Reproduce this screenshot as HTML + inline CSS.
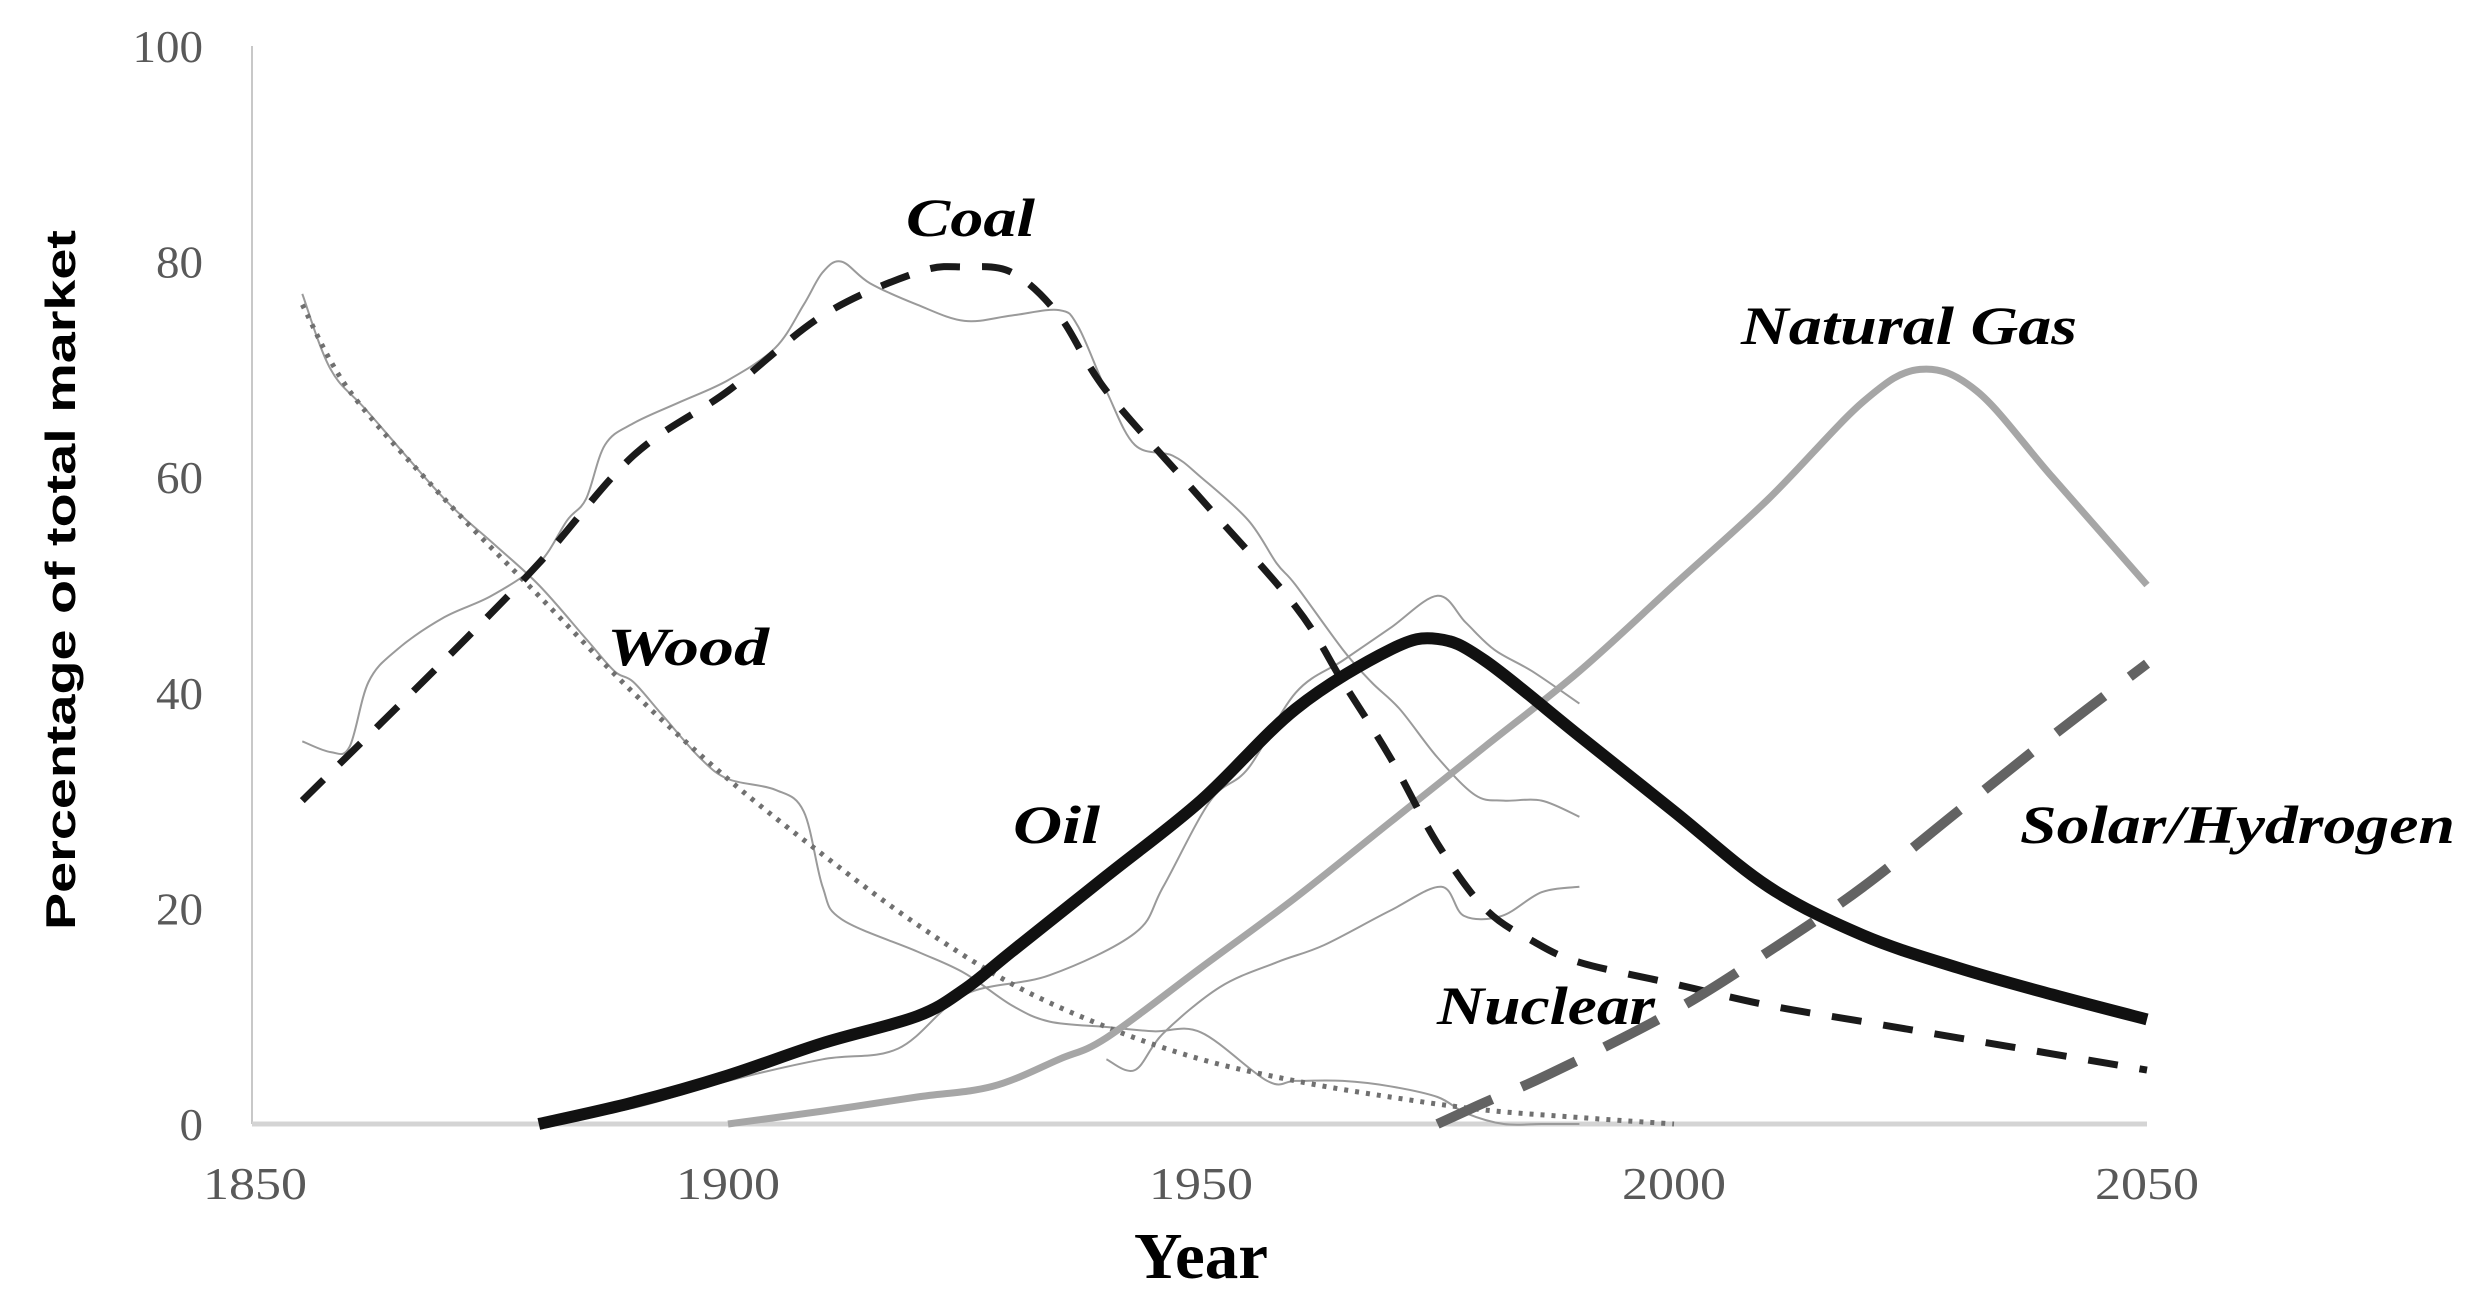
<!DOCTYPE html>
<html><head><meta charset="utf-8"><style>
html,body{margin:0;padding:0;background:#fff;}
svg{display:block;}
</style></head><body>
<svg id="chart" width="2471" height="1304" viewBox="0 0 2471 1304" xmlns="http://www.w3.org/2000/svg">
<g id="axes"></g>
<g id="series"></g>
<g id="labels"></g>
</svg>
<script>
const xTicks=[1850,1900,1950,2000,2050];
const yTicks=[0,20,40,60,80,100];
const coalYears=[1855,1870,1880,1890,1900,1910,1920,1925,1930,1935,1940,1950,1960,1965,1970,1975,1980,1985,1990,2000,2010,2020,2030,2040,2050];
const coalValues=[30,43,52,62,68,75,79,79.5,79,75,68,58,48,41,34,26,20,17,15,13,11,9.5,8,6.5,5];
const coalHistYears=[1855,1858,1860,1862,1865,1870,1875,1880,1883,1885,1887,1890,1895,1900,1905,1908,1910,1912,1915,1920,1925,1930,1935,1937,1940,1943,1947,1950,1955,1958,1960,1965,1968,1971,1975,1979,1982,1986,1990];
const coalHistValues=[35.5,34.5,35,41,44,47,49,52,56,58,63,65,67,69,72,76,79,80,78,76,74.5,75,75.5,74,68,63,62,60,56,52,50,44,41,38.5,34,30.5,30,30,28.5];
const woodYears=[1855,1860,1870,1880,1890,1900,1910,1920,1930,1940,1950,1960,1970,1980,1990,2000];
const woodValues=[76,68,58,49,40,32,25,18.5,13,9,6,4,2.5,1.3,0.6,0];
const woodHistYears=[1855,1858,1862,1870,1875,1880,1885,1888,1890,1893,1897,1900,1905,1908,1910,1912,1920,1925,1930,1934,1940,1945,1950,1957,1960,1965,1970,1975,1978,1982,1986,1990];
const woodHistValues=[77,70,66,58,54,50,45,42,41,38,34,32,31,29,22,19,16,14,11,9.5,9,8.6,8.5,4,4,4,3.5,2.5,1,0,0,0];
const oilYears=[1880,1890,1900,1910,1920,1925,1930,1940,1950,1960,1970,1975,1980,1990,2000,2010,2020,2030,2040,2050];
const oilValues=[0,2,4.5,7.5,10,12.5,16,23,30,38.5,44,45,43,36,29,22,17.5,14.5,12,9.7];
const oilHistYears=[1880,1890,1900,1910,1918,1925,1934,1943,1946,1951,1955,1960,1965,1970,1975,1978,1981,1985,1990];
const oilHistValues=[0,1.5,4,6,7,12,13.8,17.7,22,30,33,40,43,46,49,46.5,44,42,39];
const gasYears=[1900,1910,1920,1928,1935,1940,1950,1960,1970,1980,1990,2000,2010,2020,2026,2032,2040,2050];
const gasValues=[0,1.2,2.5,3.5,6,8,14.5,21,28,35,42,50,58,67,70,68,60,50];
const gasHistYears=[1940,1943,1946,1952,1958,1963,1970,1975.4,1977.8,1981.8,1986,1990];
const gasHistValues=[6,5,8.4,12.7,15,16.6,19.8,22,19.3,19.3,21.5,22];
const nuclearYears=[1975,1980,1987,2000,2010,2020,2030,2040,2050];
const nuclearValues=[0,2,4.7,10.5,16,22,29,36,42.7];
const seriesLabels=["Coal","Natural Gas","Wood","Oil","Nuclear","Solar/Hydrogen"];

const X0=255,X1=2147,Y0=1124,Y1=46;
const xs=y=>X0+(y-1850)/(2050-1850)*(X1-X0);
const ys=v=>Y0-v/100*(Y0-Y1);
const NS="http://www.w3.org/2000/svg";
function mk(tag,attrs,parent){const e=document.createElementNS(NS,tag);for(const k in attrs)e.setAttribute(k,attrs[k]);parent.appendChild(e);return e;}
function pathD(xsArr,vals){
  const p=xsArr.map((x,i)=>[xs(x),ys(vals[i])]);
  let d="M"+p[0][0].toFixed(1)+","+p[0][1].toFixed(1);
  for(let i=0;i<p.length-1;i++){
    const p0=p[i-1]||p[i],p1=p[i],p2=p[i+1],p3=p[i+2]||p2;
    const c1=[p1[0]+(p2[0]-p0[0])/6,p1[1]+(p2[1]-p0[1])/6];
    const c2=[p2[0]-(p3[0]-p1[0])/6,p2[1]-(p3[1]-p1[1])/6];
    d+=` C${c1[0].toFixed(1)},${c1[1].toFixed(1)} ${c2[0].toFixed(1)},${c2[1].toFixed(1)} ${p2[0].toFixed(1)},${p2[1].toFixed(1)}`;
  }
  return d;
}
const axes=document.getElementById('axes'),ser=document.getElementById('series'),lab=document.getElementById('labels');
let e;
e=mk('line',{x1:252,y1:Y1,x2:252,y2:Y0,stroke:'#c8c8c8','stroke-width':2},axes);


e=mk('line',{x1:252,y1:Y0,x2:X1,y2:Y0,stroke:'#d4d4d4','stroke-width':5},axes);


xTicks.forEach(t=>{
  const s=String(t);
  e=mk('text',{x:xs(t),y:1199,'text-anchor':'middle','font-family':'Liberation Serif, serif','font-size':46,fill:'#595959',textLength:s.length*26,lengthAdjust:'spacingAndGlyphs'},axes);
  e.textContent=s;
  
  
});
yTicks.forEach(t=>{
  const s=String(t);
  e=mk('text',{x:203,y:ys(t)+16,'text-anchor':'end','font-family':'Liberation Serif, serif','font-size':46,fill:'#595959',textLength:s.length*23.5,lengthAdjust:'spacingAndGlyphs'},axes);
  e.textContent=s;
  
  
});
e=mk('text',{x:1201,y:1278,'text-anchor':'middle','font-family':'Liberation Serif, serif','font-weight':'bold','font-size':66,fill:'#000',textLength:134,lengthAdjust:'spacingAndGlyphs'},axes);
e.textContent='Year';


e=mk('text',{x:0,y:0,'text-anchor':'middle','font-family':'Liberation Sans, sans-serif','font-weight':'bold','font-size':42,fill:'#000',textLength:700,lengthAdjust:'spacingAndGlyphs',transform:'translate(75,580) rotate(-90)'},axes);
e.textContent='Percentage of total market';



function line(xa,va,st,name){
  const p=mk('path',Object.assign({d:pathD(xa,va),fill:'none','stroke-linejoin':'round'},st),ser);
  
  
}
line(coalHistYears,coalHistValues,{stroke:'#9a9a9a','stroke-width':2},'coal-historical-line');
line(woodHistYears,woodHistValues,{stroke:'#9a9a9a','stroke-width':2},'wood-historical-line');
line(oilHistYears,oilHistValues,{stroke:'#9a9a9a','stroke-width':2},'oil-historical-line');
line(gasHistYears,gasHistValues,{stroke:'#9a9a9a','stroke-width':2},'gas-historical-line');
line(woodYears,woodValues,{stroke:'#707070','stroke-width':5,'stroke-dasharray':'4 7'},'wood-trend-line');
line(gasYears,gasValues,{stroke:'#a6a6a6','stroke-width':7},'natural-gas-trend-line');
line(coalYears,coalValues,{stroke:'#1a1a1a','stroke-width':7,'stroke-dasharray':'30 22'},'coal-trend-line');
line(nuclearYears,nuclearValues,{stroke:'#636363','stroke-width':10,'stroke-dasharray':'60 32'},'nuclear-solar-trend-line');
line(oilYears,oilValues,{stroke:'#111','stroke-width':12},'oil-trend-line');

const labelPos=[[906,236,129],[1741,344,336],[607,665,162],[1013,843,87],[1437,1024,218],[2020,843,435]];
seriesLabels.forEach((s,i)=>{
  const [x,y,w]=labelPos[i];
  e=mk('text',{x:x,y:y,'font-family':'Liberation Serif, serif','font-weight':'bold','font-style':'italic','font-size':54,fill:'#000',textLength:w,lengthAdjust:'spacingAndGlyphs'},lab);
  e.textContent=s;
  
  
});
</script>
</body></html>
